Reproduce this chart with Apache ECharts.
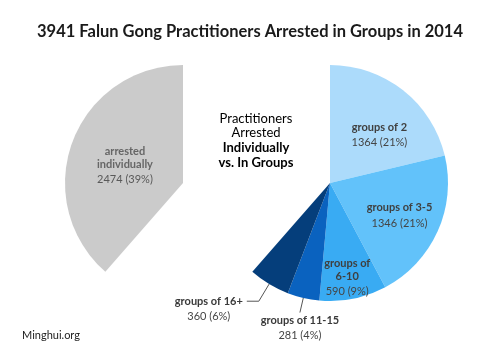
<!DOCTYPE html>
<html><head><meta charset="utf-8">
<script src="https://cdn.jsdelivr.net/npm/echarts@6/dist/echarts.min.js"></script>
<style>html,body{margin:0;padding:0;background:#fff}#c{width:500px;height:357px}</style>
</head><body><div id="c"></div>
<script>
const titleText = '3941 Falun Gong Practitioners Arrested in Groups in 2014';
const groupCategories = ['groups of 2', 'groups of 3-5', 'groups of 6-10', 'groups of 11-15', 'groups of 16+'];
const groupLabelText = ['groups of 2', 'groups of 3-5', 'groups of\n6-10', 'groups of 11-15', 'groups of 16+'];
const groupValues = [1364, 1346, 590, 281, 360];
const groupColors = ['#acdbfb', '#62c2fa', '#39abf3', '#0a62bf', '#053e7b'];
const individualCategory = 'arrested individually';
const individualLabelText = 'arrested\nindividually';
const individualValue = 2474;
const individualColor = '#cbcbcb';
const centerCaption = ['Practitioners', 'Arrested', 'Individually', 'vs. In Groups'];
const sourceText = 'Minghui.org';

const FONT = 'Lato';
const LFS = 11;
const groupSum = groupValues.reduce((a, b) => a + b, 0);

function richLabel(nameText, p) {
  if (!nameText) return '';
  const lines = nameText.split('\n').map(s => '{b|' + s + '}');
  return lines.join('\n') + '\n{v|' + p.value + ' (' + Math.round(p.percent) + '%)}';
}

const insideRich = {
  b: { fontFamily: FONT, fontWeight: 'bold', fontSize: LFS, color: '#3f3f3f', lineHeight: 13 },
  v: { fontFamily: FONT, fontSize: LFS, color: '#454545', lineHeight: 18 }
};
const outsideRich16 = {
  b: { fontFamily: FONT, fontWeight: 'bold', fontSize: LFS, color: '#3a3a3a', lineHeight: 15, width: 64, align: 'center' },
  v: { fontFamily: FONT, fontSize: LFS, color: '#454545', lineHeight: 16, width: 64, align: 'center' }
};
const outsideRich11 = {
  b: { fontFamily: FONT, fontWeight: 'bold', fontSize: LFS, color: '#3a3a3a', lineHeight: 15 },
  v: { fontFamily: FONT, fontSize: LFS, color: '#454545', lineHeight: 16 }
};
const lineStyle = { color: '#555', width: 1 };

const groupData = groupCategories.map((name, i) => {
  const item = { name: name, value: groupValues[i], itemStyle: { color: groupColors[i] } };
  if (i === 3) {
    item.label = { position: 'outside', distanceToLabelLine: 0, rich: outsideRich11 };
    item.labelLine = { show: true, length: 15, length2: 0, lineStyle: lineStyle };
  } else if (i === 4) {
    item.label = { position: 'outside', distanceToLabelLine: 6, padding: [16, 0, 0, 0], rich: outsideRich16 };
    item.labelLine = { show: true, length: 20, length2: 12, lineStyle: lineStyle };
  }
  return item;
});
groupData.push({
  name: '_rest', value: individualValue, itemStyle: { color: 'rgba(0,0,0,0)' },
  label: { show: false }, labelLine: { show: false }
});

const individualData = [
  { name: '_rest', value: groupSum, itemStyle: { color: 'rgba(0,0,0,0)' }, label: { show: false }, labelLine: { show: false } },
  { name: individualCategory, value: individualValue, itemStyle: { color: individualColor } }
];

const insideAdjust = [{ dx: 11, dy: 2 }, { dx: 13, dy: 8 }, { dx: 5, dy: 35 }, { align: 'center', verticalAlign: 'top' }, {}];

const chart = echarts.init(document.getElementById('c'), null, { renderer: 'canvas' });
chart.setOption({
  backgroundColor: '#ffffff',
  animation: false,
  title: {
    text: titleText, left: 'center', top: 18,
    textStyle: { fontFamily: FONT, fontSize: 16.5, fontWeight: 'bold', color: '#1a1a1a' }
  },
  graphic: [
    {
      type: 'text', x: 256, y: 111,
      style: {
        text: '{l|' + centerCaption[0] + '}\n{l|' + centerCaption[1] + '}\n{h|' + centerCaption[2] + '}\n{h|' + centerCaption[3] + '}',
        align: 'center',
        rich: {
          l: { fontFamily: FONT, fontSize: 13, color: '#222', lineHeight: 14.7 },
          h: { fontFamily: FONT, fontSize: 13, fontWeight: 'bold', color: '#111', lineHeight: 14.7 }
        }
      }
    },
    {
      type: 'text', x: 22, y: 330,
      style: { text: sourceText, font: '11px ' + FONT, fill: '#222' }
    }
  ],
  series: [
    {
      type: 'pie', center: [330, 183], radius: 118, startAngle: 90, clockwise: true,
      silent: true, avoidLabelOverlap: false,
      label: {
        position: 'inside',
        formatter: p => richLabel(groupLabelText[p.dataIndex], p),
        rich: insideRich
      },
      labelLine: { show: false },
      labelLayout: p => insideAdjust[p.dataIndex] || {},
      data: groupData
    },
    {
      type: 'pie', center: [183, 183], radius: 118, startAngle: 90, clockwise: true,
      silent: true, avoidLabelOverlap: false,
      label: {
        position: 'inside',
        formatter: p => (p.dataIndex === 1 ? richLabel(individualLabelText, p) : ''),
        rich: {
          b: { fontFamily: FONT, fontWeight: 'bold', fontSize: LFS, color: '#666', lineHeight: 13 },
          v: { fontFamily: FONT, fontSize: LFS, color: '#595959', lineHeight: 17 }
        }
      },
      labelLine: { show: false },
      labelLayout: p => (p.dataIndex === 1 ? { dx: 0, dy: 5 } : {}),
      data: individualData
    }
  ]
});
</script></body></html>
